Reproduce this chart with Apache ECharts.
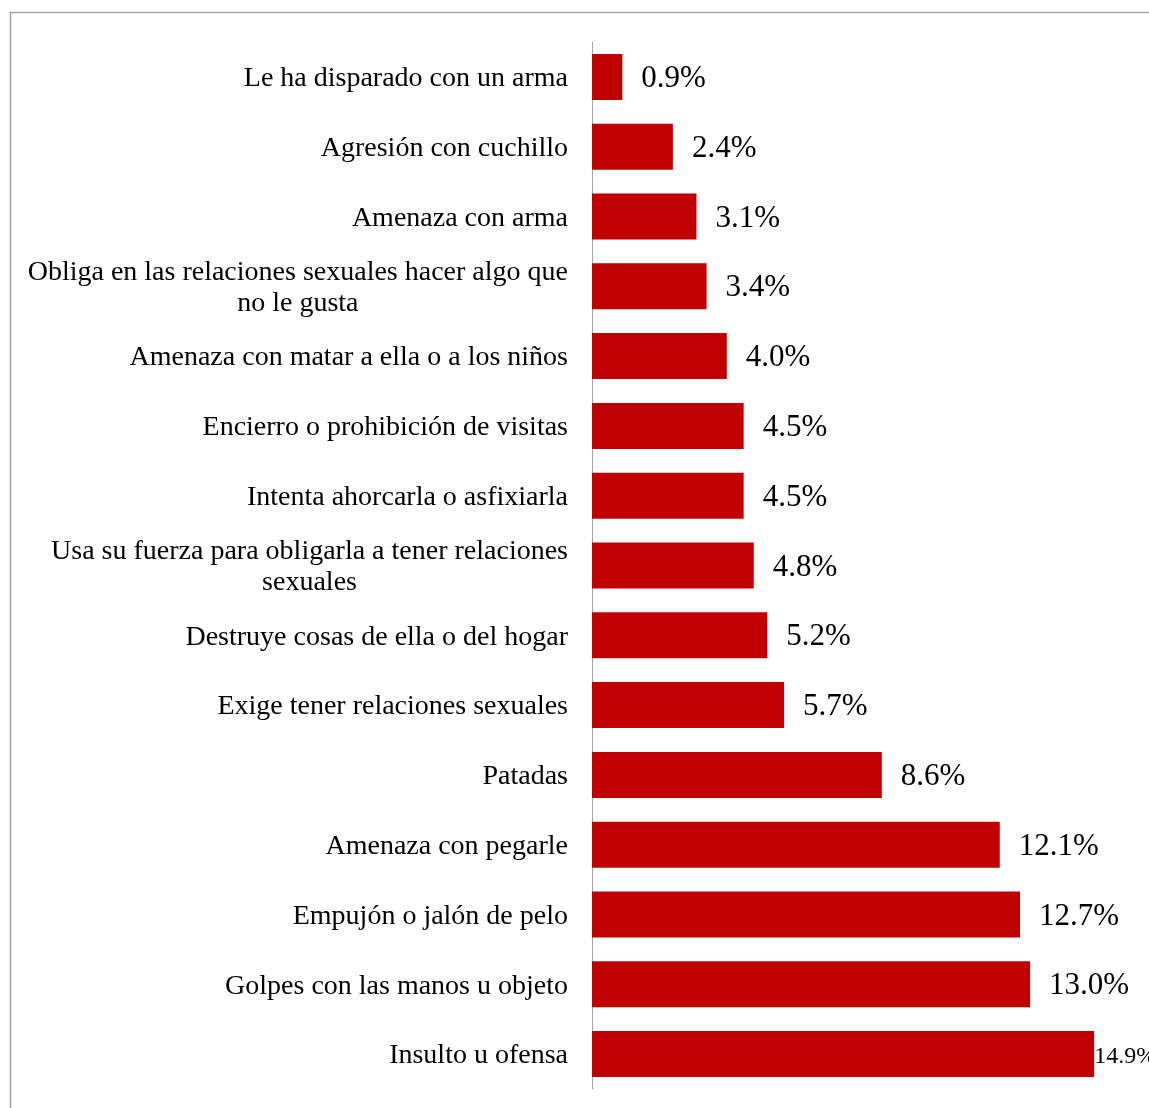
<!DOCTYPE html>
<html>
<head>
<meta charset="utf-8">
<style>
  html, body { margin: 0; padding: 0; background: #ffffff; }
  #chart { width: 1149px; height: 1108px; }
</style>
<script src="https://cdn.jsdelivr.net/npm/echarts@6/dist/echarts.min.js"></script>
</head>
<body>
<div id="chart"></div>
<script>
// Tipos de violencia, de arriba hacia abajo
const categories = [
  'Le ha disparado con un arma',
  'Agresión con cuchillo',
  'Amenaza con arma',
  'Obliga en las relaciones sexuales hacer algo que\nno le gusta',
  'Amenaza con matar a ella o a los niños',
  'Encierro o prohibición de visitas',
  'Intenta ahorcarla o asfixiarla',
  'Usa su fuerza para obligarla a tener relaciones\nsexuales',
  'Destruye cosas de ella o del hogar',
  'Exige tener relaciones sexuales',
  'Patadas',
  'Amenaza con pegarle',
  'Empujón o jalón de pelo',
  'Golpes con las manos u objeto',
  'Insulto u ofensa'
];

// Porcentaje de mujeres que lo reportan
const values = [0.9, 2.4, 3.1, 3.4, 4.0, 4.5, 4.5, 4.8, 5.2, 5.7, 8.6, 12.1, 12.7, 13.0, 14.9];

const FONT = '"Liberation Serif", "Times New Roman", serif';
const BAR_RED = '#C00000';

const chart = echarts.init(document.getElementById('chart'), null, { renderer: 'canvas' });

const seriesData = values.map(function (v, i) {
  const item = { value: v };
  // the longest bar's label sits right on the bar end, in a smaller size
  if (i === values.length - 1) {
    item.label = { fontSize: 24, distance: 0, offset: [0, 3] };
  }
  return item;
});

chart.setOption({
  animation: false,
  backgroundColor: '#ffffff',
  graphic: [{
    type: 'rect',
    shape: { x: 10.5, y: 12.5, width: 2000, height: 2000 },
    style: { fill: 'none', stroke: '#a3a3a3', lineWidth: 1.5 },
    silent: true,
    z: -1
  }],
  grid: {
    left: 592,
    top: 42,
    width: 539.2,
    height: 1047,
    containLabel: false
  },
  xAxis: {
    type: 'value',
    min: 0,
    max: 16,
    show: false
  },
  yAxis: {
    type: 'category',
    data: categories,
    inverse: true,
    axisLine: { show: true, lineStyle: { color: '#a6a6a6', width: 1 } },
    axisTick: { show: false },
    splitLine: { show: false },
    axisLabel: {
      margin: 24,
      align: 'right',
      color: '#000000',
      fontFamily: FONT,
      fontSize: 28,
      lineHeight: 31,
      padding: [4, 0, 0, 0],
      formatter: function (text) {
        return text.split('\n').map(function (line) {
          return '{c|' + line + '}';
        }).join('\n');
      },
      rich: {
        c: {
          align: 'center',
          fontFamily: FONT,
          fontSize: 28,
          lineHeight: 31,
          color: '#000000'
        }
      }
    }
  },
  series: [{
    type: 'bar',
    data: seriesData,
    barWidth: 46,
    itemStyle: { color: BAR_RED },
    label: {
      show: true,
      position: 'right',
      distance: 19,
      offset: [0, 2],
      color: '#000000',
      fontFamily: FONT,
      fontSize: 31,
      formatter: function (p) { return p.value.toFixed(1) + '%'; }
    }
  }]
});
</script>
</body>
</html>
